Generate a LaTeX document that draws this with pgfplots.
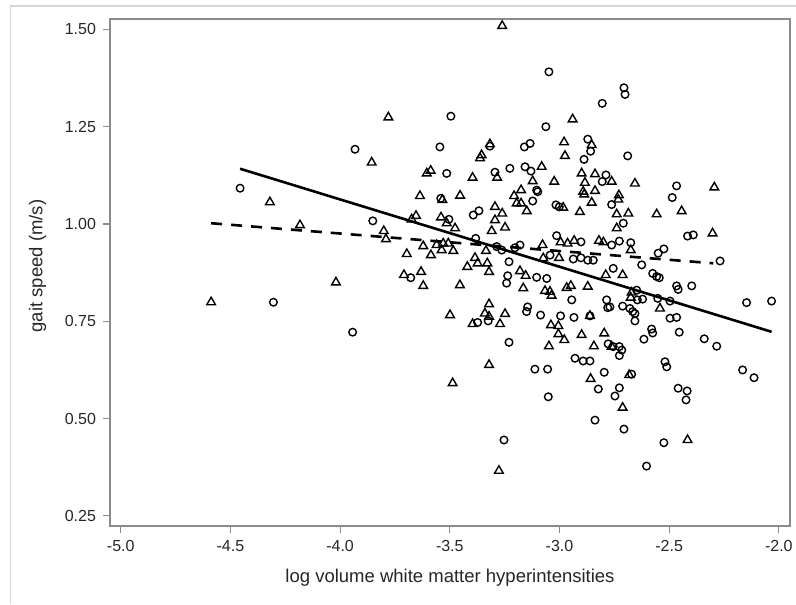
\documentclass[border=0pt]{standalone}
\usepackage{fontspec}
\setmainfont{Liberation Sans}
\usepackage{pgfplots}
\usepackage{pgfplotstable}
\pgfplotsset{compat=1.18}
\definecolor{axisgray}{RGB}{140,140,140}
\definecolor{framegray}{RGB}{215,215,215}

\pgfplotstableread{
x y
-3.780 1.274
-3.856 1.158
-4.320 1.056
-4.183 0.997
-3.801 0.982
-3.791 0.961
-4.019 0.850
-4.588 0.799
-3.261 1.509
-2.940 1.269
-2.979 1.210
-2.853 1.203
-2.975 1.175
-3.081 1.147
-3.284 1.119
-3.024 1.109
-3.122 1.110
-2.899 1.130
-2.838 1.128
-2.762 1.109
-2.884 1.106
-2.892 1.083
-2.887 1.076
-2.838 1.085
-3.175 1.087
-3.207 1.072
-3.195 1.053
-3.175 1.053
-2.853 1.055
-2.983 1.042
-3.149 1.033
-3.261 1.027
-3.294 1.044
-3.294 1.010
-2.907 1.031
-3.248 0.991
-2.995 0.953
-2.963 0.950
-2.933 0.957
-2.820 0.957
-2.800 0.953
-3.077 0.946
-2.656 1.104
-2.294 1.094
-2.729 1.074
-2.732 1.063
-2.739 1.025
-2.686 1.027
-2.557 1.025
-2.443 1.033
-2.739 0.989
-2.302 0.976
-2.675 0.933
-2.712 0.869
-2.671 0.824
-2.675 0.811
-2.542 0.783
-2.682 0.612
-2.712 0.528
-2.416 0.445
-3.002 0.913
-3.074 0.912
-3.180 0.879
-3.154 0.867
-2.789 0.869
-3.165 0.835
-3.066 0.828
-3.043 0.826
-3.036 0.816
-2.967 0.836
-2.948 0.841
-2.871 0.839
-2.861 0.764
-3.248 0.769
-3.271 0.743
-3.039 0.740
-3.005 0.738
-3.005 0.717
-2.978 0.702
-2.899 0.715
-2.796 0.719
-3.048 0.686
-2.843 0.686
-2.762 0.685
-2.858 0.602
-3.276 0.366
-3.317 1.205
-3.355 1.177
-3.362 1.169
-3.605 1.130
-3.587 1.137
-3.396 1.119
-3.636 1.072
-3.534 1.062
-3.453 1.073
-3.654 1.021
-3.674 1.012
-3.540 1.017
-3.514 1.002
-3.476 0.989
-3.309 0.982
-3.621 0.943
-3.560 0.946
-3.530 0.950
-3.507 0.950
-3.696 0.923
-3.586 0.920
-3.537 0.933
-3.484 0.931
-3.420 0.890
-3.385 0.913
-3.373 0.899
-3.335 0.931
-3.329 0.899
-3.321 0.877
-3.709 0.869
-3.631 0.877
-3.621 0.841
-3.454 0.843
-3.321 0.794
-3.499 0.766
-3.340 0.770
-3.396 0.743
-3.321 0.762
-3.321 0.638
-3.487 0.591
}\triangles

\pgfplotstableread{
x y
-3.932 1.192
-4.456 1.092
-3.851 1.008
-4.304 0.799
-3.943 0.722
-2.147 0.798
-2.033 0.802
-2.165 0.625
-2.113 0.605
-2.550 0.925
-2.524 0.936
-2.268 0.905
-2.755 0.886
-2.625 0.895
-2.575 0.873
-2.557 0.865
-2.545 0.862
-2.466 0.841
-2.459 0.832
-2.397 0.841
-2.648 0.830
-2.645 0.805
-2.621 0.807
-2.552 0.809
-2.496 0.802
-2.770 0.787
-2.712 0.789
-2.679 0.783
-2.666 0.775
-2.656 0.770
-2.656 0.751
-2.496 0.758
-2.466 0.760
-2.454 0.722
-2.580 0.730
-2.575 0.720
-2.615 0.704
-2.340 0.705
-2.283 0.686
-2.755 0.685
-2.727 0.685
-2.716 0.676
-2.727 0.662
-2.519 0.646
-2.511 0.633
-2.671 0.614
-2.459 0.578
-2.418 0.571
-2.423 0.548
-2.727 0.579
-2.747 0.558
-2.706 0.473
-2.524 0.438
-2.603 0.378
-2.706 1.350
-2.701 1.333
-2.689 1.175
-2.466 1.098
-2.486 1.068
-2.762 1.050
-2.709 1.002
-2.416 0.969
-2.390 0.972
-2.762 0.946
-2.727 0.956
-2.675 0.952
-3.048 1.391
-2.805 1.310
-3.062 1.250
-3.160 1.198
-3.134 1.207
-2.871 1.218
-2.858 1.187
-2.888 1.166
-3.226 1.143
-3.157 1.147
-3.130 1.136
-3.294 1.133
-2.788 1.126
-2.805 1.109
-3.104 1.087
-3.099 1.083
-3.122 1.059
-3.016 1.049
-3.001 1.044
-3.013 0.970
-2.902 0.954
-3.180 0.946
-3.286 0.942
-3.203 0.939
-3.263 0.933
-3.043 0.920
-2.937 0.910
-2.902 0.913
-2.871 0.907
-2.846 0.907
-3.230 0.903
-3.236 0.867
-3.241 0.848
-3.104 0.863
-3.058 0.860
-2.944 0.805
-2.785 0.805
-2.780 0.785
-3.145 0.787
-3.150 0.775
-3.086 0.766
-2.995 0.764
-2.934 0.760
-2.861 0.764
-3.230 0.696
-2.778 0.692
-2.929 0.655
-2.892 0.648
-2.861 0.648
-3.112 0.627
-3.054 0.627
-2.796 0.619
-2.823 0.576
-3.051 0.556
-2.838 0.496
-3.253 0.445
-3.495 1.277
-3.545 1.198
-3.317 1.200
-3.514 1.130
-3.541 1.066
-3.393 1.023
-3.367 1.034
-3.504 1.012
-3.382 0.963
-3.678 0.862
-3.373 0.747
-3.325 0.751
}\circles

\begin{document}
\begin{tikzpicture}
\useasboundingbox (-55pt,-39pt) rectangle (343pt,263pt);
\draw[framegray, line width=0.6pt] (-49.65pt,-39pt) -- (-49.65pt,260pt) -- (343pt,260pt);
\begin{axis}[
  at={(0pt,0pt)}, anchor=south west,
  scale only axis, width=340pt, height=253.35pt,
  xmin=-5.049, xmax=-1.949, ymin=0.224, ymax=1.526,
  xtick={-5,-4.5,-4,-3.5,-3,-2.5,-2},
  xticklabels={-5.0,-4.5,-4.0,-3.5,-3.0,-2.5,-2.0},
  ytick={0.25,0.5,0.75,1,1.25,1.5},
  yticklabels={0.25,0.50,0.75,1.00,1.25,1.50},
  xtick pos=bottom, ytick pos=left,
  tick align=outside, major tick length=3.5pt,
  minor tick num=0,
  axis line style={axisgray, line width=0.8pt},
  tick style={axisgray, line width=0.6pt},
  every tick label/.append style={font=\fontsize{8}{9.6}\selectfont, text=black!85},
  xlabel={log volume white matter hyperintensities},
  ylabel={gait speed (m/s)},
  every axis x label/.style={at={([yshift=-21.5pt]axis description cs:0.5,0)}, anchor=north, inner sep=0pt, font=\fontsize{9.25}{11}\selectfont, text=black!85},
  every axis y label/.style={at={([xshift=-31.65pt]axis description cs:0,0.513)}, rotate=90, anchor=south, inner sep=0pt, font=\fontsize{9.25}{11}\selectfont, text=black!85},
  clip=false,
]
\addplot[only marks, mark=triangle, mark size=2.5pt, mark options={black, line width=0.7pt}] table[x=x,y=y] {\triangles};
\addplot[only marks, mark=o, mark size=1.9pt, mark options={black, line width=0.7pt}] table[x=x,y=y] {\circles};
\addplot[black, line width=1.3pt, no marks] coordinates {(-4.456,1.142) (-2.033,0.723)};
\addplot[black, line width=1.3pt, no marks, dash pattern=on 5.5pt off 4.5pt] coordinates {(-4.588,1.002) (-2.299,0.899)};
\end{axis}
\end{tikzpicture}
\end{document}
